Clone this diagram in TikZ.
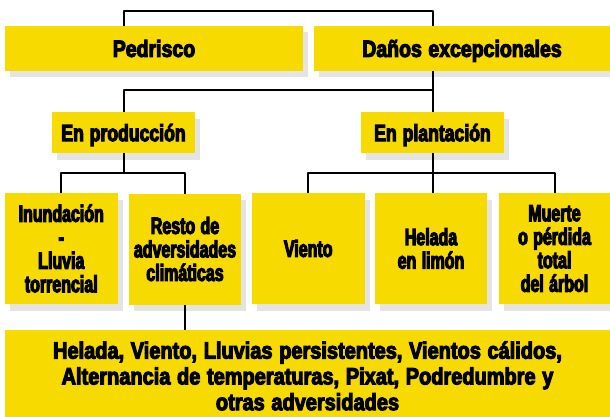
\documentclass[tikz,border=0pt]{standalone}
\usepackage{fontspec}
\newfontfamily\topfont{Liberation Sans Bold}[FakeStretch=0.83, FakeBold=4.5, WordSpace=1.2]
\newfontfamily\midfont{Liberation Sans Bold}[FakeStretch=0.75, FakeBold=4.5, WordSpace=1.2]
\newfontfamily\lowfont{Liberation Sans Bold}[FakeStretch=0.68, FakeBold=4.5, WordSpace=1.2]
\newfontfamily\botfont{Liberation Sans Bold}[FakeStretch=0.85, FakeBold=4.5, WordSpace=1.2]
\usetikzlibrary{shadows}
\definecolor{boxyellow}{RGB}{246,218,0}
\definecolor{shadowgray}{RGB}{228,228,228}
\begin{document}
\begin{tikzpicture}[x=1pt,y=-1pt,
  ybox/.style={fill=boxyellow, inner sep=0pt, outer sep=0pt, align=center,
    general shadow={fill=shadowgray, shadow xshift=5pt, shadow yshift=-6.5pt}},
  sline/.style={text height=16.8pt, text depth=0pt},
  toprow/.style={minimum width=#1, minimum height=45pt, font=\topfont\fontsize{23.5}{23.5}\selectfont},
  midrow/.style={minimum width=143pt, minimum height=41pt, font=\midfont\fontsize{23.5}{23.5}\selectfont},
  lowrow/.style={minimum width=#1, minimum height=111pt, font=\lowfont\fontsize{23.5}{23.5}\selectfont},
  txt/.style={inner sep=0pt, align=center, font=\botfont\fontsize{23.5}{25.8}\selectfont},
  conn/.style={line width=2pt, line join=round, draw=black}]
\useasboundingbox (0,0) rectangle (610,417);
% boxes
\node[ybox, toprow=298pt, sline] (ped) at (154,48.5) {Pedrisco};
\node[ybox, toprow=296pt, sline] (dan) at (462,48.5) {Daños excepcionales};
\node[ybox, midrow, sline] (prod) at (123.5,132.8) {En producción};
\node[ybox, midrow, sline] (plan) at (432.5,132.8) {En plantación};
\node[ybox, lowrow=112.5pt] (inun) at (61.25,248.5) {Inundación\\-\\Lluvia\\torrencial};
\node[ybox, lowrow=112pt] (resto) at (185,249) {Resto de\\adversidades\\climáticas};
\node[ybox, lowrow=112.5pt, sline] (viento) at (308.25,248.5) {Viento};
\node[ybox, lowrow=112pt] (helada) at (431,248.5) {Helada\\en limón};
\node[ybox, lowrow=111pt] (muerte) at (554.5,248.5) {Muerte\\o pérdida\\total\\del árbol};
\node[ybox, minimum width=605pt, minimum height=87pt] (bot) at (307.5,373.5) {};
\node[txt] (bottxt) at (307.5,375.9) {Helada, Viento, Lluvias persistentes, Vientos cálidos,\\Alternancia de temperaturas, Pixat, Podredumbre y\\otras adversidades};
% bars
\coordinate (bar1) at (0,11);
\coordinate (bar2) at (0,90.5);
\coordinate (bar3) at (0,172.5);
% connectors
\draw[conn] (ped.north -| prod) -- (bar1 -| prod) -- (bar1 -| plan) -- (dan.north -| plan);
\draw[conn] (dan.south -| plan) -- (plan.north);
\draw[conn] (prod.north) -- (bar2 -| prod) -- (bar2 -| plan);
\draw[conn] (prod.south) -- (bar3 -| prod);
\draw[conn] (inun.north) -- (bar3 -| inun) -- (bar3 -| resto) -- (resto.north);
\draw[conn] (plan.south) -- (helada.north -| plan);
\draw[conn] (viento.north) -- (bar3 -| viento) -- (bar3 -| muerte) -- (muerte.north);
\draw[conn] (resto.south) -- (bot.north -| resto);
\end{tikzpicture}
\end{document}
